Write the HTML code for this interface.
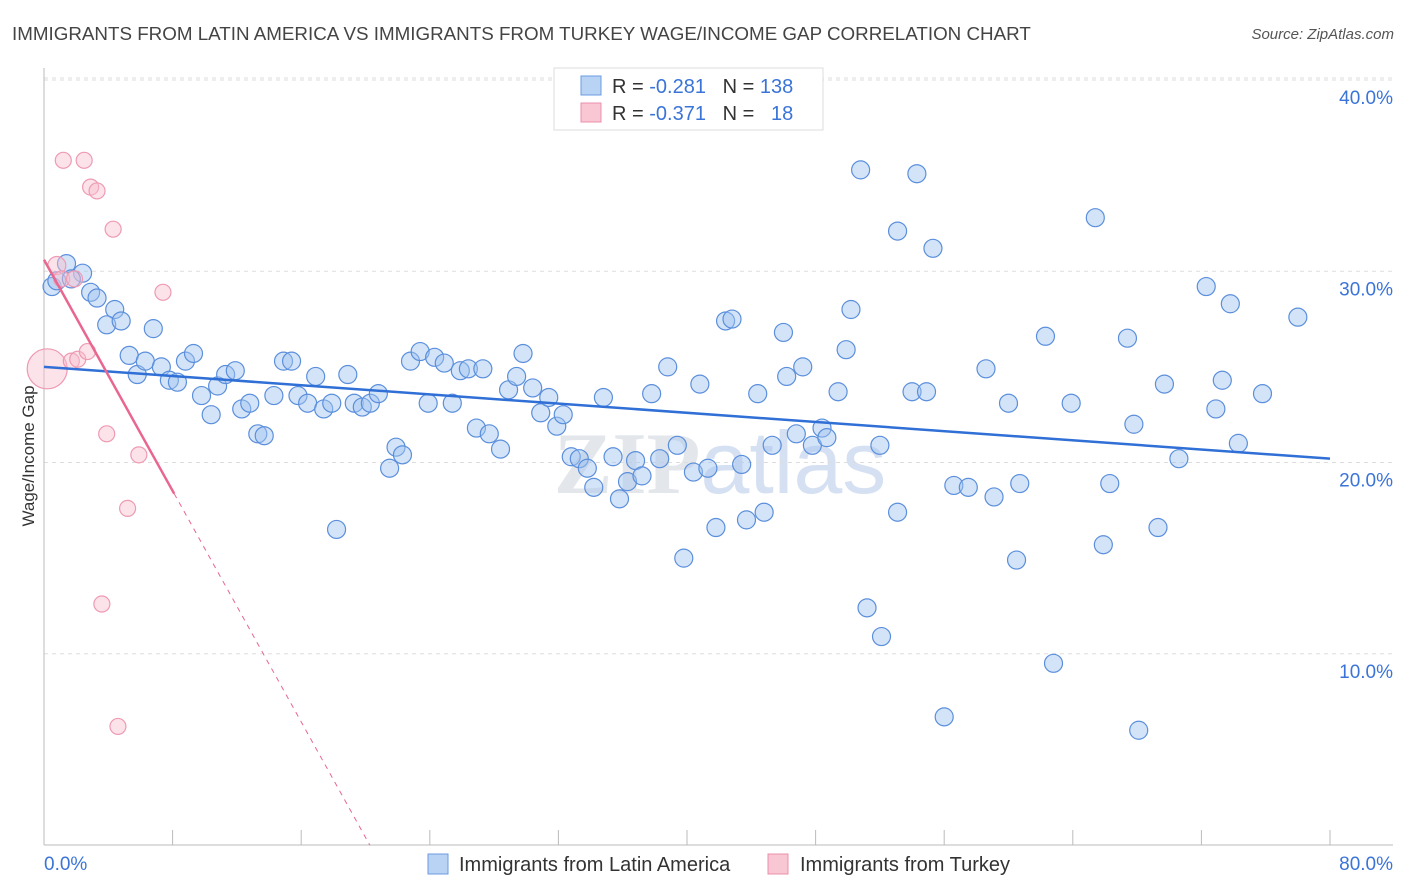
<!DOCTYPE html>
<html><head><meta charset="utf-8"><style>
body{margin:0;background:#fff;font-family:"Liberation Sans",sans-serif;}
svg{display:block}
</style></head><body>
<svg id="chart" width="1406" height="892" xmlns="http://www.w3.org/2000/svg">
<text x="12" y="40" font-size="18.8" fill="#444">IMMIGRANTS FROM LATIN AMERICA VS IMMIGRANTS FROM TURKEY WAGE/INCOME GAP CORRELATION CHART</text>
<text x="1394" y="39" font-size="15" fill="#555" font-style="italic" text-anchor="end">Source: ZipAtlas.com</text>
<text x="720" y="493" font-size="88" fill="#e3e6eb" text-anchor="middle" font-weight="bold" font-family="Liberation Serif,serif">ZIP<tspan font-family="Liberation Sans,sans-serif" font-weight="normal" fill="#d5e1f2">atlas</tspan></text>
<g id="grid"></g><g id="axes"></g><g id="marks"></g>
<text transform="translate(34,456) rotate(-90)" font-size="17" fill="#333" text-anchor="middle">Wage/Income Gap</text>
<g>
<rect x="554" y="68" width="269" height="62" fill="#fff" stroke="#ddd"/>
<rect x="581" y="76" width="20" height="19" fill="#b9d3f5" stroke="#6a9be0"/>
<rect x="581" y="103" width="20" height="19" fill="#f9c6d4" stroke="#ec8fab"/>
<text x="612" y="93" font-size="20" fill="#333">R = <tspan fill="#3b74d8">-0.281</tspan>&#160;&#160;&#160;N = <tspan fill="#3b74d8">138</tspan></text>
<text x="612" y="120" font-size="20" fill="#333">R = <tspan fill="#3b74d8">-0.371</tspan>&#160;&#160;&#160;N = &#160;&#160;<tspan fill="#3b74d8">18</tspan></text>
</g>
<g>
<rect x="428" y="854" width="20" height="20" fill="#b9d3f5" stroke="#6a9be0"/>
<text x="459" y="871" font-size="20" fill="#333">Immigrants from Latin America</text>
<rect x="768" y="854" width="20" height="20" fill="#f9c6d4" stroke="#ec8fab"/>
<text x="800" y="871" font-size="20" fill="#333">Immigrants from Turkey</text>
</g>
</svg>
<script>
const blueX=[0.5,0.8,1.4,2.4,1.7,2.9,3.3,4.4,3.9,4.8,5.3,5.8,6.3,6.8,7.3,7.8,8.3,8.8,9.3,9.8,10.4,10.8,11.3,11.9,12.3,12.8,13.3,13.7,14.3,14.9,15.4,15.8,16.4,16.9,17.4,17.9,18.9,18.2,19.3,19.8,20.3,20.8,21.5,21.9,22.3,22.8,23.4,23.9,24.3,24.9,25.4,25.9,26.4,26.9,27.3,27.7,28.4,28.9,29.4,29.8,30.4,30.9,31.4,31.9,32.3,32.8,33.3,33.8,34.2,34.8,35.4,35.8,36.3,36.8,37.2,37.8,38.3,38.8,39.4,39.8,40.4,40.8,41.3,41.8,42.4,42.8,43.4,43.7,44.4,44.8,45.3,46.0,46.2,46.8,47.2,47.8,48.4,48.7,49.4,49.9,50.2,50.8,51.2,52.0,52.1,53.1,53.1,54.0,54.3,54.9,55.3,56.0,56.6,57.5,58.6,59.1,60.0,60.5,60.7,62.3,62.8,63.9,65.4,65.9,66.3,67.4,67.8,68.1,69.3,69.7,70.6,72.3,72.9,73.3,73.8,74.3,75.8,78.0];
const blueY=[29.2,29.5,30.4,29.9,29.6,28.9,28.6,28.0,27.2,27.4,25.6,24.6,25.3,27.0,25.0,24.3,24.2,25.3,25.7,23.5,22.5,24.0,24.6,24.8,22.8,23.1,21.5,21.4,23.5,25.3,25.3,23.5,23.1,24.5,22.8,23.1,24.6,16.5,23.1,22.9,23.1,23.6,19.7,20.8,20.4,25.3,25.8,23.1,25.5,25.2,23.1,24.8,24.9,21.8,24.9,21.5,20.7,23.8,24.5,25.7,23.9,22.6,23.4,21.9,22.5,20.3,20.2,19.7,18.7,23.4,20.3,18.1,19.0,20.1,19.3,23.6,20.2,25.0,20.9,15.0,19.5,24.1,19.7,16.6,27.4,27.5,19.9,17.0,23.6,17.4,20.9,26.8,24.5,21.5,25.0,20.9,21.8,21.3,23.7,25.9,28.0,35.3,12.4,20.9,10.9,32.1,17.4,23.7,35.1,23.7,31.2,6.7,18.8,18.7,24.9,18.2,23.1,14.9,18.9,26.6,9.5,23.1,32.8,15.7,18.9,26.5,22.0,6.0,16.6,24.1,20.2,29.2,22.8,24.3,28.3,21.0,23.6,27.6];
const pinkX=[0.2,0.8,1.2,2.5,2.9,3.3,4.3,7.4,1.7,2.1,2.7,3.9,5.9,5.2,3.6,4.6,1.1,1.9];
const pinkY=[24.9,30.3,35.8,35.8,34.4,34.2,32.2,28.9,25.3,25.4,25.8,21.5,20.4,17.6,12.6,6.2,29.6,29.6];
const pinkR=[20,9,8,8,8,8,8,8,8,8,8,8,8,8,8,8,8,8];
const blueTrend=[25.0,20.2];
const pinkTrend=[30.6,-1.51];
const yTicks=[10,20,30,40];
const yTickLabels=["10.0%","20.0%","30.0%","40.0%"];
const xTicks=[0,8,16,24,32,40,48,56,64,72,80];
const xTickLabels=["0.0%","80.0%"];

const NS="http://www.w3.org/2000/svg";
const X=v=>44+v*(1286/80);
const Y=v=>845-v*19.125;
function mk(tag,attrs,parent){const e=document.createElementNS(NS,tag);for(const k in attrs)e.setAttribute(k,attrs[k]);document.getElementById(parent).appendChild(e);return e;}
yTicks.forEach((t,i)=>{
 const g=mk('line',{x1:44,x2:1393,y1:Y(t),y2:Y(t),stroke:'#ddd','stroke-dasharray':'4,4'},'grid');
 
 
 const l=mk('text',{x:1393,y:Y(t)+24,'font-size':19,fill:'#3b74d8','text-anchor':'end'},'axes');
 l.textContent=yTickLabels[i];
 
 
});
const tg=mk('line',{x1:44,x2:1393,y1:78,y2:78,stroke:'#ddd','stroke-dasharray':'4,4'},'grid');


const ax=mk('line',{x1:44,x2:1393,y1:845,y2:845,stroke:'#bbb'},'axes');


const ay=mk('line',{x1:44,x2:44,y1:68,y2:845,stroke:'#bbb'},'axes');


xTicks.forEach(t=>{
 const k=mk('line',{x1:X(t),x2:X(t),y1:830,y2:845,stroke:'#bbb'},'axes');
 
 
});
const xl0=mk('text',{x:44,y:870,'font-size':19,fill:'#3b74d8'},'axes');
xl0.textContent=xTickLabels[0];


const xl1=mk('text',{x:1393,y:870,'font-size':19,fill:'#3b74d8','text-anchor':'end'},'axes');
xl1.textContent=xTickLabels[1];


blueX.forEach((x,i)=>{
 const c=mk('circle',{cx:X(x),cy:Y(blueY[i]),r:9,fill:'rgba(160,196,240,0.45)',stroke:'#5b8fdc','stroke-width':1.2},'marks');
 
 
});
pinkX.forEach((x,i)=>{
 const c=mk('circle',{cx:X(x),cy:Y(pinkY[i]),r:pinkR[i],fill:'rgba(248,190,206,0.45)',stroke:'#ee9ab3','stroke-width':1.2},'marks');
 
 
});
const bl=mk('line',{x1:X(0),y1:Y(blueTrend[0]),x2:X(80),y2:Y(blueTrend[1]),stroke:'#2f6fd6','stroke-width':2.5},'marks');


const pxEnd=8.1, pxZero=-pinkTrend[0]/pinkTrend[1];
const ps=mk('line',{x1:X(0),y1:Y(pinkTrend[0]),x2:X(pxEnd),y2:Y(pinkTrend[0]+pinkTrend[1]*pxEnd),stroke:'#e8668f','stroke-width':2.5},'marks');


const pd=mk('line',{x1:X(pxEnd),y1:Y(pinkTrend[0]+pinkTrend[1]*pxEnd),x2:X(pxZero),y2:Y(0),stroke:'#e8668f','stroke-width':1,'stroke-dasharray':'5,5'},'marks');


</script>
</body></html>
